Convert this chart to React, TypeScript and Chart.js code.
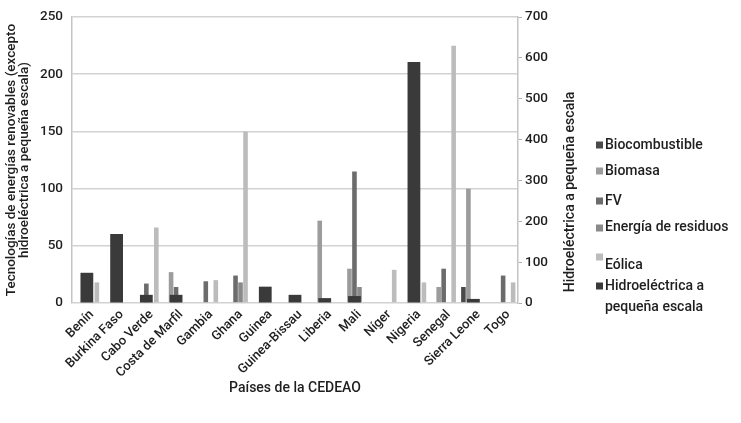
import React, { useEffect, useRef } from "react";
import { Chart, registerables } from "chart.js";

Chart.register(...registerables);

const categories = [
  "Benín", "Burkina Faso", "Cabo Verde", "Costa de Marfil", "Gambia", "Ghana", "Guinea",
  "Guinea-Bissau", "Liberia", "Mali", "Níger", "Nigeria", "Senegal", "Sierra Leone", "Togo",
];

// left axis (MW)
const biocombustible = [0, 0, 0, 0, 0, 0, 0, 0, 0, 0, 0, 0, 0, 14, 0];
const biomasa = [0, 0, 0, 27, 0, 0, 0, 0, 72, 30, 0, 0, 14, 100, 0];
const fv = [0, 0, 17, 14, 19, 24, 0, 0, 0, 115, 0, 0, 30, 0, 24];
const residuos = [0, 0, 0, 0, 0, 18, 0, 0, 0, 14, 0, 0, 0, 0, 0];
const eolica = [18, 0, 66, 0, 20, 150, 0, 0, 0, 0, 29, 18, 225, 0, 18];
// right axis
const hidro = [74, 169, 20, 20, 0, 0, 40, 20, 12, 17, 0, 590, 0, 10, 0];

const seriesNames = [
  "Biocombustible", "Biomasa", "FV", "Energía de residuos", "Eólica", "Hidroeléctrica a pequeña escala",
];
const legendLines = [
  ["Biocombustible"], ["Biomasa"], ["FV"], ["Energía de residuos"], ["Eólica"],
  ["Hidroeléctrica a", "pequeña escala"],
];
const seriesColors = ["#4a4a4a", "#9c9c9c", "#6c6c6c", "#8a8a8a", "#bcbcbc", "#3a3a3a"];

const leftTitle = ["Tecnologías de energías renovables (excepto", "hidroeléctrica a pequeña escala)"];
const rightTitle = "Hidroeléctrica a pequeña escala";
const xTitle = "Países de la CEDEAO";

const FONT = "Roboto, 'Noto Sans', sans-serif";
const TEXT = "#1e1e1e";

// legend layout (pixel positions)
const legendX = 596;
const legendTextX = 605;
const legendY = [145, 171, 201, 227, 265, 286];
const legendMarkerY = [145, 171, 201, 228, 257, 286];
const legendLineGap = 21;

const extrasPlugin = {
  id: "extras",
  afterDraw(chart: any) {
    const ctx = chart.ctx as CanvasRenderingContext2D;
    ctx.save();
    ctx.fillStyle = TEXT;
    ctx.font = `500 14px ${FONT}`;
    ctx.textAlign = "center";
    ctx.textBaseline = "middle";
    ctx.translate(570, 192);
    ctx.rotate(-Math.PI / 2);
    ctx.fillText(rightTitle, 0, 0);
    ctx.restore();

    ctx.save();
    ctx.font = `500 14px ${FONT}`;
    ctx.textAlign = "left";
    ctx.textBaseline = "middle";
    legendLines.forEach((lines, i) => {
      ctx.fillStyle = seriesColors[i];
      ctx.fillRect(legendX, legendMarkerY[i] - 3.5, 7, 7);
      ctx.fillStyle = TEXT;
      lines.forEach((t, j) => ctx.fillText(t, legendTextX, legendY[i] + j * legendLineGap));
    });
    ctx.restore();
  },
};

export default function App() {
  const ref = useRef<HTMLCanvasElement>(null);
  useEffect(() => {
    if (!ref.current) return;
    const primary = [biocombustible, biomasa, fv, residuos, eolica].map((d, i) => ({
      label: seriesNames[i],
      data: d,
      backgroundColor: seriesColors[i],
      borderWidth: 0,
      yAxisID: "y",
      barPercentage: 0.92,
      categoryPercentage: 0.84,
      order: 1,
    }));
    const chart = new Chart(ref.current, {
      type: "bar",
      data: {
        labels: categories,
        datasets: [
          ...primary,
          {
            label: seriesNames[5],
            data: hidro,
            backgroundColor: seriesColors[5],
            borderWidth: 0,
            yAxisID: "y1",
            grouped: false,
            barPercentage: 0.43,
            categoryPercentage: 1,
            order: 0,
          } as any,
        ],
      },
      options: {
        responsive: false,
        animation: false,
        devicePixelRatio: 1,
        layout: { padding: { top: 17, left: 0, right: 0, bottom: 0 } },
        plugins: { legend: { display: false }, tooltip: { enabled: false } },
        scales: {
          x: {
            grid: { display: false, drawTicks: false },
            border: { display: false },
            ticks: {
              minRotation: 45,
              maxRotation: 45,
              autoSkip: false,
              padding: 4,
              labelOffset: 5,
              color: TEXT,
              font: { family: FONT, size: 13, weight: "500" },
            },
            title: {
              display: true,
              text: xTitle,
              color: TEXT,
              font: { family: FONT, size: 14, weight: "500" },
              padding: { top: 0, bottom: 26 },
            },
            afterFit: (s: any) => { s.height = 120; },
          },
          y: {
            position: "left",
            min: 0,
            max: 250,
            ticks: { stepSize: 50, padding: 9, color: TEXT, font: { family: FONT, size: 13.5, weight: "500" } },
            grid: { color: "#d2d2d2", lineWidth: 1.6, drawTicks: false },
            border: { color: "#c4c4c4", width: 1.5 },
            title: {
              display: true,
              text: leftTitle,
              color: TEXT,
              font: { family: FONT, size: 13.5, weight: "500", lineHeight: 0.95 },
              padding: { top: 5, bottom: 0 },
            },
            afterFit: (s: any) => { s.width = 72; },
          },
          y1: {
            position: "right",
            min: 0,
            max: 700,
            ticks: { stepSize: 100, padding: 3, color: TEXT, font: { family: FONT, size: 13.5, weight: "500" } },
            grid: { drawOnChartArea: false, drawTicks: true, tickLength: 4, color: "#b0b0b0" },
            border: { color: "#c4c4c4", width: 1.5 },
            afterFit: (s: any) => { s.width = 223; },
          },
        },
      },
      plugins: [extrasPlugin],
    });
    return () => chart.destroy();
  }, []);
  return (
    <div style={{ position: "absolute", left: 0, top: 0, width: 741, height: 423, background: "#fff" }}>
      <canvas ref={ref} width={741} height={423} style={{ display: "block" }} />
    </div>
  );
}
